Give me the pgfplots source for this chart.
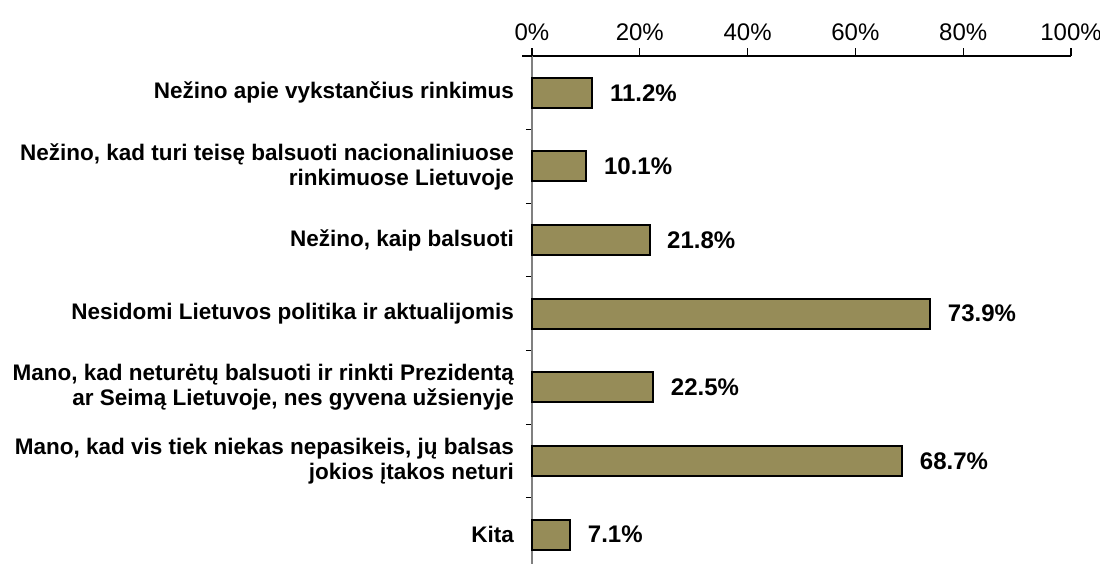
\documentclass[border=0pt]{standalone}
\usepackage{fontspec}
\setmainfont{Liberation Sans}
\usepackage{pgfplots}
\pgfplotsset{compat=1.18}
\definecolor{barolive}{RGB}{150,140,88}
\begin{document}
\begin{tikzpicture}
\begin{axis}[
    name=ax,
    scale only axis,
    width=269.5pt,
    height=254pt,
    xbar,
    bar width=15pt,
    y dir=reverse,
    xmin=0, xmax=100,
    ymin=-0.5, ymax=6.4,
    axis x line*=top,
    axis y line*=left,
    x axis line style={black, line width=0.6pt},
    y axis line style={gray, line width=0.6pt},
    xtick={0,20,...,100},
    xticklabel={\pgfmathprintnumber{\tick}\%},
    xtick pos=top,
    tick align=outside,
    major tick length=4pt,
    minor tick length=3pt,
    x tick style={black, line width=0.6pt},
    ytick={0,...,6},
    yticklabels={
        Nežino apie vykstančius rinkimus,
        {Nežino, kad turi teisę balsuoti nacionaliniuose\\rinkimuose Lietuvoje},
        {Nežino, kaip balsuoti},
        Nesidomi Lietuvos politika ir aktualijomis,
        {Mano, kad neturėtų balsuoti ir rinkti Prezidentą\\ar Seimą Lietuvoje, nes gyvena užsienyje},
        {Mano, kad vis tiek niekas nepasikeis, jų balsas\\jokios įtakos neturi},
        Kita},
    major y tick style={draw=none},
    minor ytick={0.5,1.5,...,5.5},
    minor y tick style={black, line width=0.6pt},
    yticklabel style={align=right, font=\bfseries\fontsize{11.25}{12.5}\selectfont, xshift=-1.5pt},
    xticklabel style={font=\fontsize{12}{14}\selectfont},
    /pgf/number format/assume math mode=true,
    point meta=x,
    nodes near coords={\pgfmathprintnumber[fixed,fixed zerofill,precision=1]{\pgfplotspointmeta}\%},
    every node near coord/.append style={anchor=west, xshift=5pt, font=\bfseries\fontsize{12}{14}\selectfont, black},
    clip=false,
]
\addplot[fill=barolive, draw=black, line width=1pt] coordinates {
    (11.2,0)
    (10.1,1)
    (21.8,2)
    (73.9,3)
    (22.5,4)
    (68.7,5)
    (7.1,6)
};
\end{axis}
\draw[black, line width=0.6pt] ([xshift=-5pt]ax.north west) -- (ax.north west);
\pgfresetboundingbox
\path[use as bounding box] ([xshift=-266pt]ax.south west) rectangle ([xshift=14.5pt,yshift=28pt]ax.north east);
\end{tikzpicture}
\end{document}
